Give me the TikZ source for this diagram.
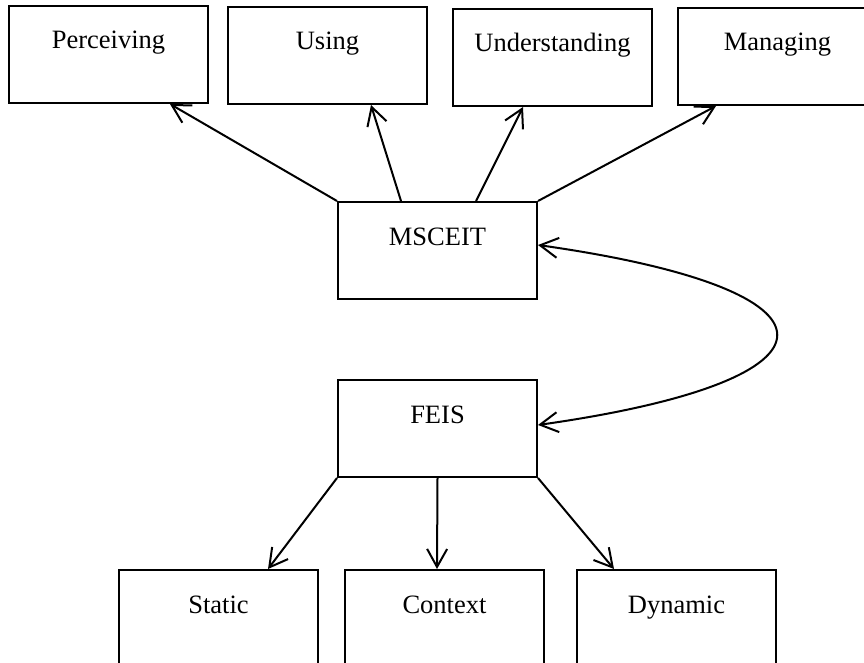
\documentclass[tikz,border=0pt]{standalone}
\usepackage{fontspec}
\setmainfont{Liberation Serif}
\usetikzlibrary{arrows.meta,calc}
\begin{document}
\begin{tikzpicture}[x=1pt,y=-1pt,
  box/.style={draw, line width=2pt, rectangle, anchor=north west,
    minimum width=199pt, inner xsep=0pt, inner ysep=0pt,
    text height=43pt, text depth=54pt,
    font=\fontsize{26.5pt}{30pt}\selectfont},
  tipb/.tip={Straight Barb[length=18pt,width=20pt]},
  conn/.style={line width=2pt, -tipb},
  dbl/.style={line width=2pt, tipb-tipb}]
\clip (0,0) rectangle (864,663);
\fill[white] (0,0) rectangle (864,663);
% top row
\node[box] (p) at (8,5) {Perceiving};
\node[box] (u) at (227,6) {Using};
\node[box] (und) at (452,8) {Understanding};
\node[box] (m) at (677,7) {Managing};
% middle
\node[box] (ms) at (337,201) {MSCEIT};
\node[box] (f) at (337,379) {FEIS};
% bottom row
\node[box] (s) at (118,569) {Static};
\node[box] (c) at (344,569) {Context};
\node[box] (d) at (576,569) {Dynamic};
% connectors to the top row
\draw[conn] (ms.north west) -- ($(p.south)+(61.5,0)$);
\draw[conn] ($(ms.north)+(-36.5,0)$) -- ($(u.south)+(43.5,0)$);
\draw[conn] ($(ms.north)+(38.5,0)$) -- ($(und.south)+(-29.5,0)$);
\draw[conn] (ms.north east) -- ($(m.south)+(-61.5,0)$);
% connectors to the bottom row
\draw[conn] (f.south west) -- ($(s.north)+(49.5,0)$);
\draw[conn] (f.south) -- ($(c.north)+(-7.5,0)$);
\draw[conn] (f.south east) -- ($(d.north)+(-62.5,0)$);
% curved two-headed connector
\coordinate (a) at ($(ms.north east)+(0,44)$);
\coordinate (b) at ($(f.north east)+(0,46)$);
\draw[dbl] (a) .. controls ($(a)+(318,45)$) and ($(b)+(318,-45)$) .. (b);
\end{tikzpicture}
\end{document}
